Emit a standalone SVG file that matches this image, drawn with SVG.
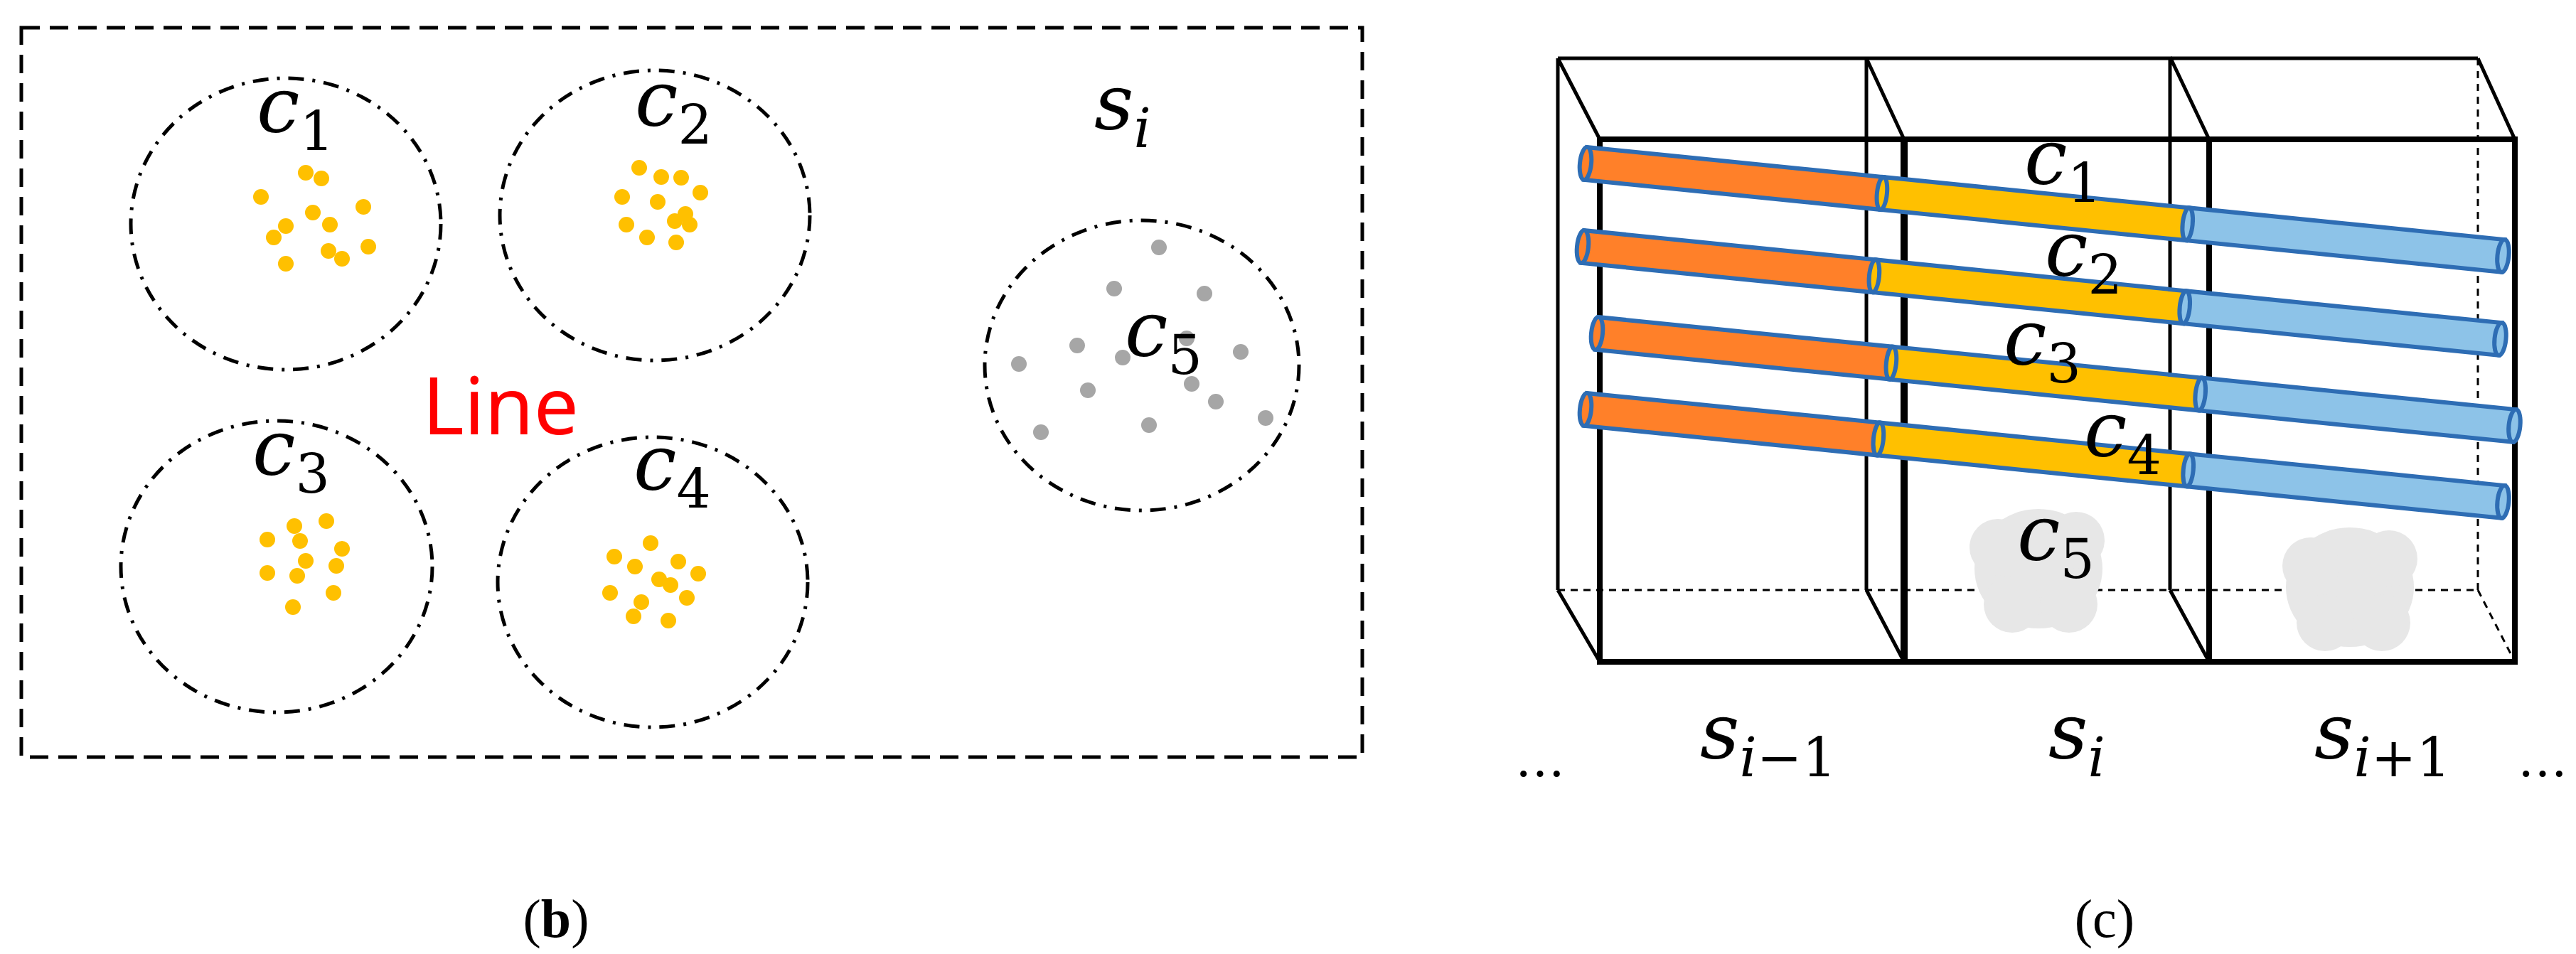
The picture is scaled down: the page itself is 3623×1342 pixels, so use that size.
<svg xmlns="http://www.w3.org/2000/svg" width="3623" height="1342" viewBox="0 0 3623 1342">
<style>
.m{font-family:"DejaVu Serif","Liberation Serif",serif;font-style:italic;font-size:108px;fill:#000}
.sb{font-style:normal;font-size:76px}
.si{font-style:italic;font-size:76px}
.cl{fill:none;stroke:#000;stroke-width:5;stroke-dasharray:22 12 4 12}
.y{fill:#FFC000}.g{fill:#A6A6A6}
.bk{fill:none;stroke:#000;stroke-width:5}
.fr{fill:none;stroke:#000;stroke-width:8}
.ds{fill:none;stroke:#000;stroke-width:3;stroke-dasharray:10 8}
.o{fill:#FF8029;stroke:#2E6DB4;stroke-width:6}
.ye{fill:#FFC000;stroke:#2E6DB4;stroke-width:6}
.bl{fill:#8DC3E8;stroke:#2E6DB4;stroke-width:6}
.cap{font-family:"Liberation Serif",serif;font-size:76px;text-anchor:middle}
</style>
<rect x="30" y="39" width="1886" height="1026" fill="none" stroke="#000" stroke-width="5" stroke-dasharray="26 14"/>
<g id="c1"><ellipse class="cl" cx="402" cy="315" rx="218" ry="205"/>
<g class="y"><circle cx="430" cy="243" r="11"/><circle cx="452" cy="251" r="11"/><circle cx="367" cy="277" r="11"/><circle cx="511" cy="291" r="11"/><circle cx="440" cy="299" r="11"/><circle cx="402" cy="318" r="11"/><circle cx="464" cy="316" r="11"/><circle cx="385" cy="334" r="11"/><circle cx="518" cy="347" r="11"/><circle cx="462" cy="353" r="11"/><circle cx="481" cy="364" r="11"/><circle cx="402" cy="371" r="11"/></g>
<text class="m" x="361" y="185">c<tspan class="sb" dy="26">1</tspan></text></g>
<g id="c2"><ellipse class="cl" cx="921" cy="303" rx="218" ry="204"/>
<g class="y"><circle cx="899" cy="236" r="11"/><circle cx="930" cy="249" r="11"/><circle cx="958" cy="250" r="11"/><circle cx="875" cy="277" r="11"/><circle cx="985" cy="271" r="11"/><circle cx="925" cy="284" r="11"/><circle cx="964" cy="301" r="11"/><circle cx="881" cy="316" r="11"/><circle cx="949" cy="311" r="11"/><circle cx="970" cy="316" r="11"/><circle cx="910" cy="334" r="11"/><circle cx="951" cy="341" r="11"/></g>
<text class="m" x="893" y="176">c<tspan class="sb" dy="26">2</tspan></text></g>
<g id="c3"><ellipse class="cl" cx="389" cy="797" rx="219" ry="205"/>
<g class="y"><circle cx="414" cy="740" r="11"/><circle cx="459" cy="733" r="11"/><circle cx="376" cy="759" r="11"/><circle cx="422" cy="761" r="11"/><circle cx="481" cy="772" r="11"/><circle cx="430" cy="789" r="11"/><circle cx="473" cy="796" r="11"/><circle cx="376" cy="806" r="11"/><circle cx="418" cy="810" r="11"/><circle cx="469" cy="834" r="11"/><circle cx="412" cy="854" r="11"/></g>
<text class="m" x="355" y="667">c<tspan class="sb" dy="26">3</tspan></text></g>
<g id="c4"><ellipse class="cl" cx="918" cy="819" rx="218" ry="204"/>
<g class="y"><circle cx="915" cy="764" r="11"/><circle cx="864" cy="783" r="11"/><circle cx="893" cy="797" r="11"/><circle cx="954" cy="790" r="11"/><circle cx="982" cy="807" r="11"/><circle cx="927" cy="815" r="11"/><circle cx="943" cy="823" r="11"/><circle cx="858" cy="834" r="11"/><circle cx="966" cy="841" r="11"/><circle cx="902" cy="847" r="11"/><circle cx="891" cy="867" r="11"/><circle cx="940" cy="873" r="11"/></g>
<text class="m" x="891" y="688">c<tspan class="sb" dy="26">4</tspan></text></g>
<g id="c5"><ellipse class="cl" cx="1606" cy="514" rx="221" ry="204"/>
<g class="g"><circle cx="1630" cy="348" r="11"/><circle cx="1567" cy="406" r="11"/><circle cx="1694" cy="413" r="11"/><circle cx="1515" cy="486" r="11"/><circle cx="1579" cy="503" r="11"/><circle cx="1669" cy="476" r="11"/><circle cx="1745" cy="495" r="11"/><circle cx="1433" cy="512" r="11"/><circle cx="1530" cy="549" r="11"/><circle cx="1676" cy="540" r="11"/><circle cx="1710" cy="565" r="11"/><circle cx="1616" cy="598" r="11"/><circle cx="1780" cy="588" r="11"/><circle cx="1464" cy="608" r="11"/></g>
<text class="m" x="1582" y="500">c<tspan class="sb" dy="26">5</tspan></text></g>
<text class="m" x="1539" y="181">s<tspan class="si" dy="26">i</tspan></text>
<text x="594" y="611" font-family="Noto Sans,sans-serif" font-size="112" fill="#FF0000">Line</text>
<text class="cap" x="782" y="1318">(<tspan font-weight="bold">b</tspan>)</text>

<g id="boxes">
<path class="bk" d="M2191 82H3485M2191 82V830M2625 82V830M3052 80V830M2191 82L2250 196M2625 82L2678 196M3052 80L3107 196M3485 82L3537 196M2191 830L2250 931M2625 830L2678 931M3052 830L3107 931"/>
<path class="ds" d="M3485 82V830M2191 830H3485M3485 830L3537 931"/>
<path class="fr" d="M2250 196H3537V931H2250ZM2678 196V931M3107 196V931"/>
<path fill="none" stroke="#000" stroke-width="10" d="M2678 196V931"/>
</g>
<g id="clouds" fill="#E7E7E7">
<ellipse cx="2867" cy="800" rx="90" ry="84"/><circle cx="2810" cy="770" r="40"/><circle cx="2920" cy="760" r="40"/><circle cx="2830" cy="850" r="40"/><circle cx="2910" cy="850" r="40"/>
<ellipse cx="3305" cy="826" rx="90" ry="84"/><circle cx="3250" cy="796" r="40"/><circle cx="3360" cy="786" r="40"/><circle cx="3270" cy="876" r="40"/><circle cx="3350" cy="876" r="40"/>
</g>
<g id="tubes">
<g transform="translate(2230,230) rotate(5.75)"><rect class="bl" x="851" y="-23" width="446" height="46"/><ellipse class="bl" cx="1297" cy="0" rx="8" ry="23"/><rect class="ye" x="419" y="-23" width="432" height="46"/><ellipse class="bl" cx="851" cy="0" rx="7" ry="23"/><rect class="o" x="0" y="-23" width="419" height="46"/><ellipse class="ye" cx="419" cy="0" rx="7" ry="23"/><ellipse class="o" cx="0" cy="0" rx="8" ry="23"/></g>
<g transform="translate(2226,347) rotate(5.75)"><rect class="bl" x="851" y="-23" width="446" height="46"/><ellipse class="bl" cx="1297" cy="0" rx="8" ry="23"/><rect class="ye" x="412" y="-23" width="439" height="46"/><ellipse class="bl" cx="851" cy="0" rx="7" ry="23"/><rect class="o" x="0" y="-23" width="412" height="46"/><ellipse class="ye" cx="412" cy="0" rx="7" ry="23"/><ellipse class="o" cx="0" cy="0" rx="8" ry="23"/></g>
<g transform="translate(2246,469) rotate(5.75)"><rect class="bl" x="853" y="-23" width="444" height="46"/><ellipse class="bl" cx="1297" cy="0" rx="8" ry="23"/><rect class="ye" x="416" y="-23" width="437" height="46"/><ellipse class="bl" cx="853" cy="0" rx="7" ry="23"/><rect class="o" x="0" y="-23" width="416" height="46"/><ellipse class="ye" cx="416" cy="0" rx="7" ry="23"/><ellipse class="o" cx="0" cy="0" rx="8" ry="23"/></g>
<g transform="translate(2230,576) rotate(5.75)"><rect class="bl" x="852" y="-23" width="445" height="46"/><ellipse class="bl" cx="1297" cy="0" rx="8" ry="23"/><rect class="ye" x="414" y="-23" width="438" height="46"/><ellipse class="bl" cx="852" cy="0" rx="7" ry="23"/><rect class="o" x="0" y="-23" width="414" height="46"/><ellipse class="ye" cx="414" cy="0" rx="7" ry="23"/><ellipse class="o" cx="0" cy="0" rx="8" ry="23"/></g>
</g>
<g id="labels">
<text class="m" x="2847" y="258">c<tspan class="sb" dy="26">1</tspan></text>
<text class="m" x="2876" y="387">c<tspan class="sb" dy="26">2</tspan></text>
<text class="m" x="2818" y="512">c<tspan class="sb" dy="26">3</tspan></text>
<text class="m" x="2931" y="641">c<tspan class="sb" dy="26">4</tspan></text>
<text class="m" x="2837" y="787">c<tspan class="sb" dy="26">5</tspan></text>
<text class="m" x="2391" y="1066">s<tspan class="si" dy="26">i</tspan><tspan class="sb">−1</tspan></text>
<text class="m" x="2881" y="1066">s<tspan class="si" dy="26">i</tspan></text>
<text class="m" x="3255" y="1066">s<tspan class="si" dy="26">i</tspan><tspan class="sb">+1</tspan></text>
<text x="2131" y="1092" font-family="DejaVu Serif,serif" font-size="70">…</text>
<text x="3541" y="1092" font-family="DejaVu Serif,serif" font-size="70">…</text>
</g>
<text class="cap" x="2960" y="1318">(c)</text>
</svg>
